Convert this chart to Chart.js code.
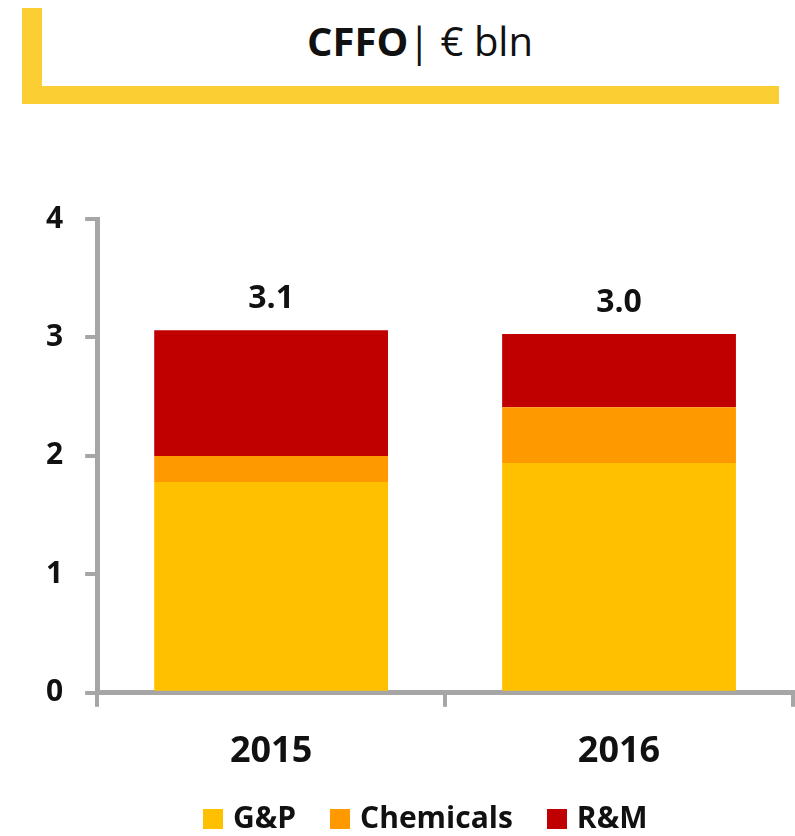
<!DOCTYPE html>
<html>
<head>
<meta charset="utf-8">
<title>CFFO</title>
<script src="https://cdn.jsdelivr.net/npm/chart.js@4.4.1/dist/chart.umd.min.js"></script>
<style>
  html, body { margin: 0; padding: 0; background: #fff; }
  body { width: 795px; height: 836px; position: relative; overflow: hidden; font-family: "Open Sans", sans-serif; }
  .bracket { position: absolute; left: 22px; top: 8px; width: 737px; height: 78px; border-left: 20px solid #FBCF33; border-bottom: 18px solid #FBCF33; }
  .titolo { position: absolute; left: 0; top: 21px; width: 840px; text-align: center; font-size: 40px; line-height: 1; color: #111; white-space: nowrap; }
  .titolo b { font-weight: 700; }
  #grafico { position: absolute; left: 0; top: 0; }
  .legenda { position: absolute; left: 203px; top: 802px; display: flex; align-items: center; font-size: 30px; font-weight: 700; line-height: 1; color: #111; }
  .legenda span.box { display: inline-block; width: 20px; height: 20px; margin-right: 10px; margin-top: 4px; }
  .legenda span.item { display: flex; align-items: center; margin-right: 34px; }
</style>
</head>
<body>
<div class="bracket"></div>
<div class="titolo"><b>CFFO</b>| € bln</div>
<canvas id="grafico" width="795" height="836"></canvas>
<div class="legenda" id="legenda"></div>

<script>
// dati (€ mld)
const anni = ['2015', '2016'];
const segmenti = ['G&P', 'Chemicals', 'R&M'];
const gp = [1.78, 1.94];
const chemicals = [0.22, 0.47];
const rm = [1.06, 0.62];
const tickY = [0, 1, 2, 3, 4];

const colori = ['#FFC000', '#FF9900', '#C00000'];
const serie = [gp, chemicals, rm];

// legenda html
const legenda = document.getElementById('legenda');
segmenti.forEach((nome, i) => {
  const item = document.createElement('span');
  item.className = 'item';
  item.innerHTML = '<span class="box" style="background:' + colori[i] + '"></span>' + nome;
  legenda.appendChild(item);
});

const GRIGIO = '#A6A6A6';
const fontBold = (size) => ({ family: '"Open Sans", sans-serif', size: size, weight: '700' });

// totali sopra le colonne
const totaliPlugin = {
  id: 'totali',
  afterDatasetsDraw(chart) {
    const { ctx, scales } = chart;
    ctx.save();
    ctx.font = '700 32px "Open Sans", sans-serif';
    ctx.fillStyle = '#111';
    ctx.textAlign = 'center';
    ctx.textBaseline = 'alphabetic';
    anni.forEach((a, i) => {
      const totale = serie.reduce((sum, s) => sum + s[i], 0);
      const x = scales.x.getPixelForValue(i);
      const y = scales.y.getPixelForValue(totale) - 22;
      ctx.fillText((Math.round(totale * 10) / 10).toFixed(1), x, y);
    });
    ctx.restore();
  },
};

new Chart(document.getElementById('grafico'), {
  type: 'bar',
  data: {
    labels: anni,
    datasets: segmenti.map((nome, i) => ({
      label: nome,
      data: serie[i],
      backgroundColor: colori[i],
      borderWidth: 0,
      categoryPercentage: 1,
      barPercentage: 0.672,
    })),
  },
  options: {
    responsive: false,
    animation: false,
    devicePixelRatio: 1,
    layout: { padding: { top: 219, right: 2, bottom: 40, left: 24 } },
    plugins: {
      legend: { display: false },
      tooltip: { enabled: false },
    },
    scales: {
      x: {
        stacked: true,
        grid: { drawOnChartArea: false, drawTicks: true, tickLength: 14, color: GRIGIO, lineWidth: 4, offset: true },
        border: { display: true, color: GRIGIO, width: 5 },
        ticks: { color: '#111', font: fontBold(36), padding: 23 },
      },
      y: {
        stacked: true,
        min: tickY[0],
        max: tickY[tickY.length - 1],
        afterBuildTicks: (axis) => { axis.ticks = tickY.map((v) => ({ value: v })); },
        grid: { drawOnChartArea: false, drawTicks: true, tickLength: 12, color: GRIGIO, lineWidth: 4 },
        border: { display: true, color: GRIGIO, width: 5 },
        ticks: { color: '#111', font: fontBold(30), padding: 22 },
      },
    },
  },
  plugins: [totaliPlugin],
});
</script>
</body>
</html>
